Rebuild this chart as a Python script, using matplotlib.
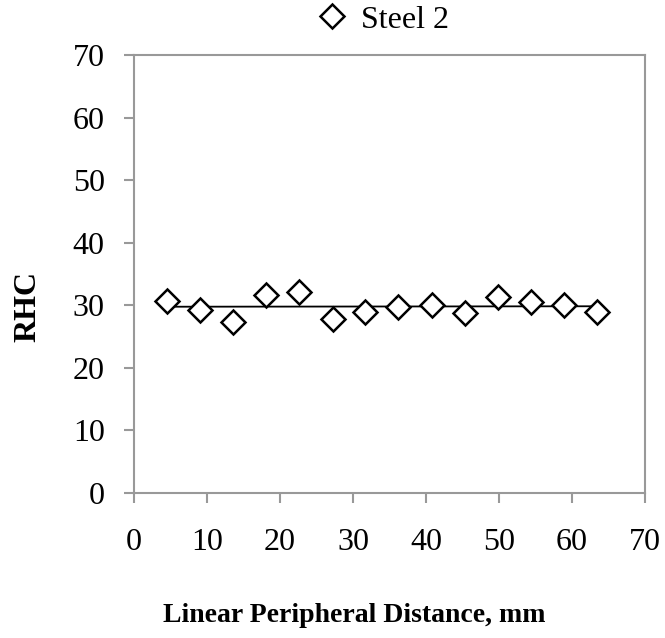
import numpy as np
import matplotlib
matplotlib.use("Agg")
import matplotlib.pyplot as plt

# data
distance = [4.5, 9.0, 13.6, 18.1, 22.6, 27.2, 31.7, 36.2, 40.8, 45.3, 49.8, 54.4, 58.9, 63.4]
rhc = [30.7, 29.3, 27.3, 31.7, 32.1, 27.8, 28.9, 29.8, 30.1, 28.8, 31.3, 30.5, 30.1, 28.9]
series_name = "Steel 2"

plt.rcParams['font.family'] = ['Liberation Serif', 'DejaVu Serif']
GREY = '#999999'

fig = plt.figure(figsize=(6.65, 6.38), dpi=100)
ax = fig.add_axes([134/665, 1 - 493/638, (645-134)/665, (493-55)/638])

ax.plot(distance, rhc, linestyle='none', marker='D', ms=12.5, mfc='white',
        mec='black', mew=1.8, label=series_name, zorder=3)

# linear trendline
slope, icpt = np.polyfit(distance, rhc, 1)
xs = np.array([distance[0], distance[-1]])
ax.plot(xs, slope * xs + icpt, color='black', lw=1.3, zorder=2)

ax.set_xlim(0, 70)
ax.set_ylim(0, 70)
ax.set_xticks(np.arange(0, 71, 10))
ax.set_yticks(np.arange(0, 71, 10))
for s in ax.spines.values():
    s.set_color(GREY)
    s.set_linewidth(1.5)
ax.tick_params(direction='out', length=7, width=1.5, color=GREY, labelsize=23)
ax.tick_params(axis='x', pad=18)
ax.tick_params(axis='y', pad=14)

fig.text(354/665, 1 - 622/638, 'Linear Peripheral Distance, mm', fontsize=20,
         fontweight='bold', ha='center', va='baseline')
fig.text(28/665, 1 - 307/638, 'RHC', fontsize=23, fontweight='bold',
         rotation=90, ha='center', va='center')

fig.legend(loc='center', bbox_to_anchor=(381/665, 1 - 20/638), frameon=False,
           fontsize=23, handletextpad=0.3, handlelength=1.2, borderpad=0)

fig.savefig('out.png', dpi=100)
